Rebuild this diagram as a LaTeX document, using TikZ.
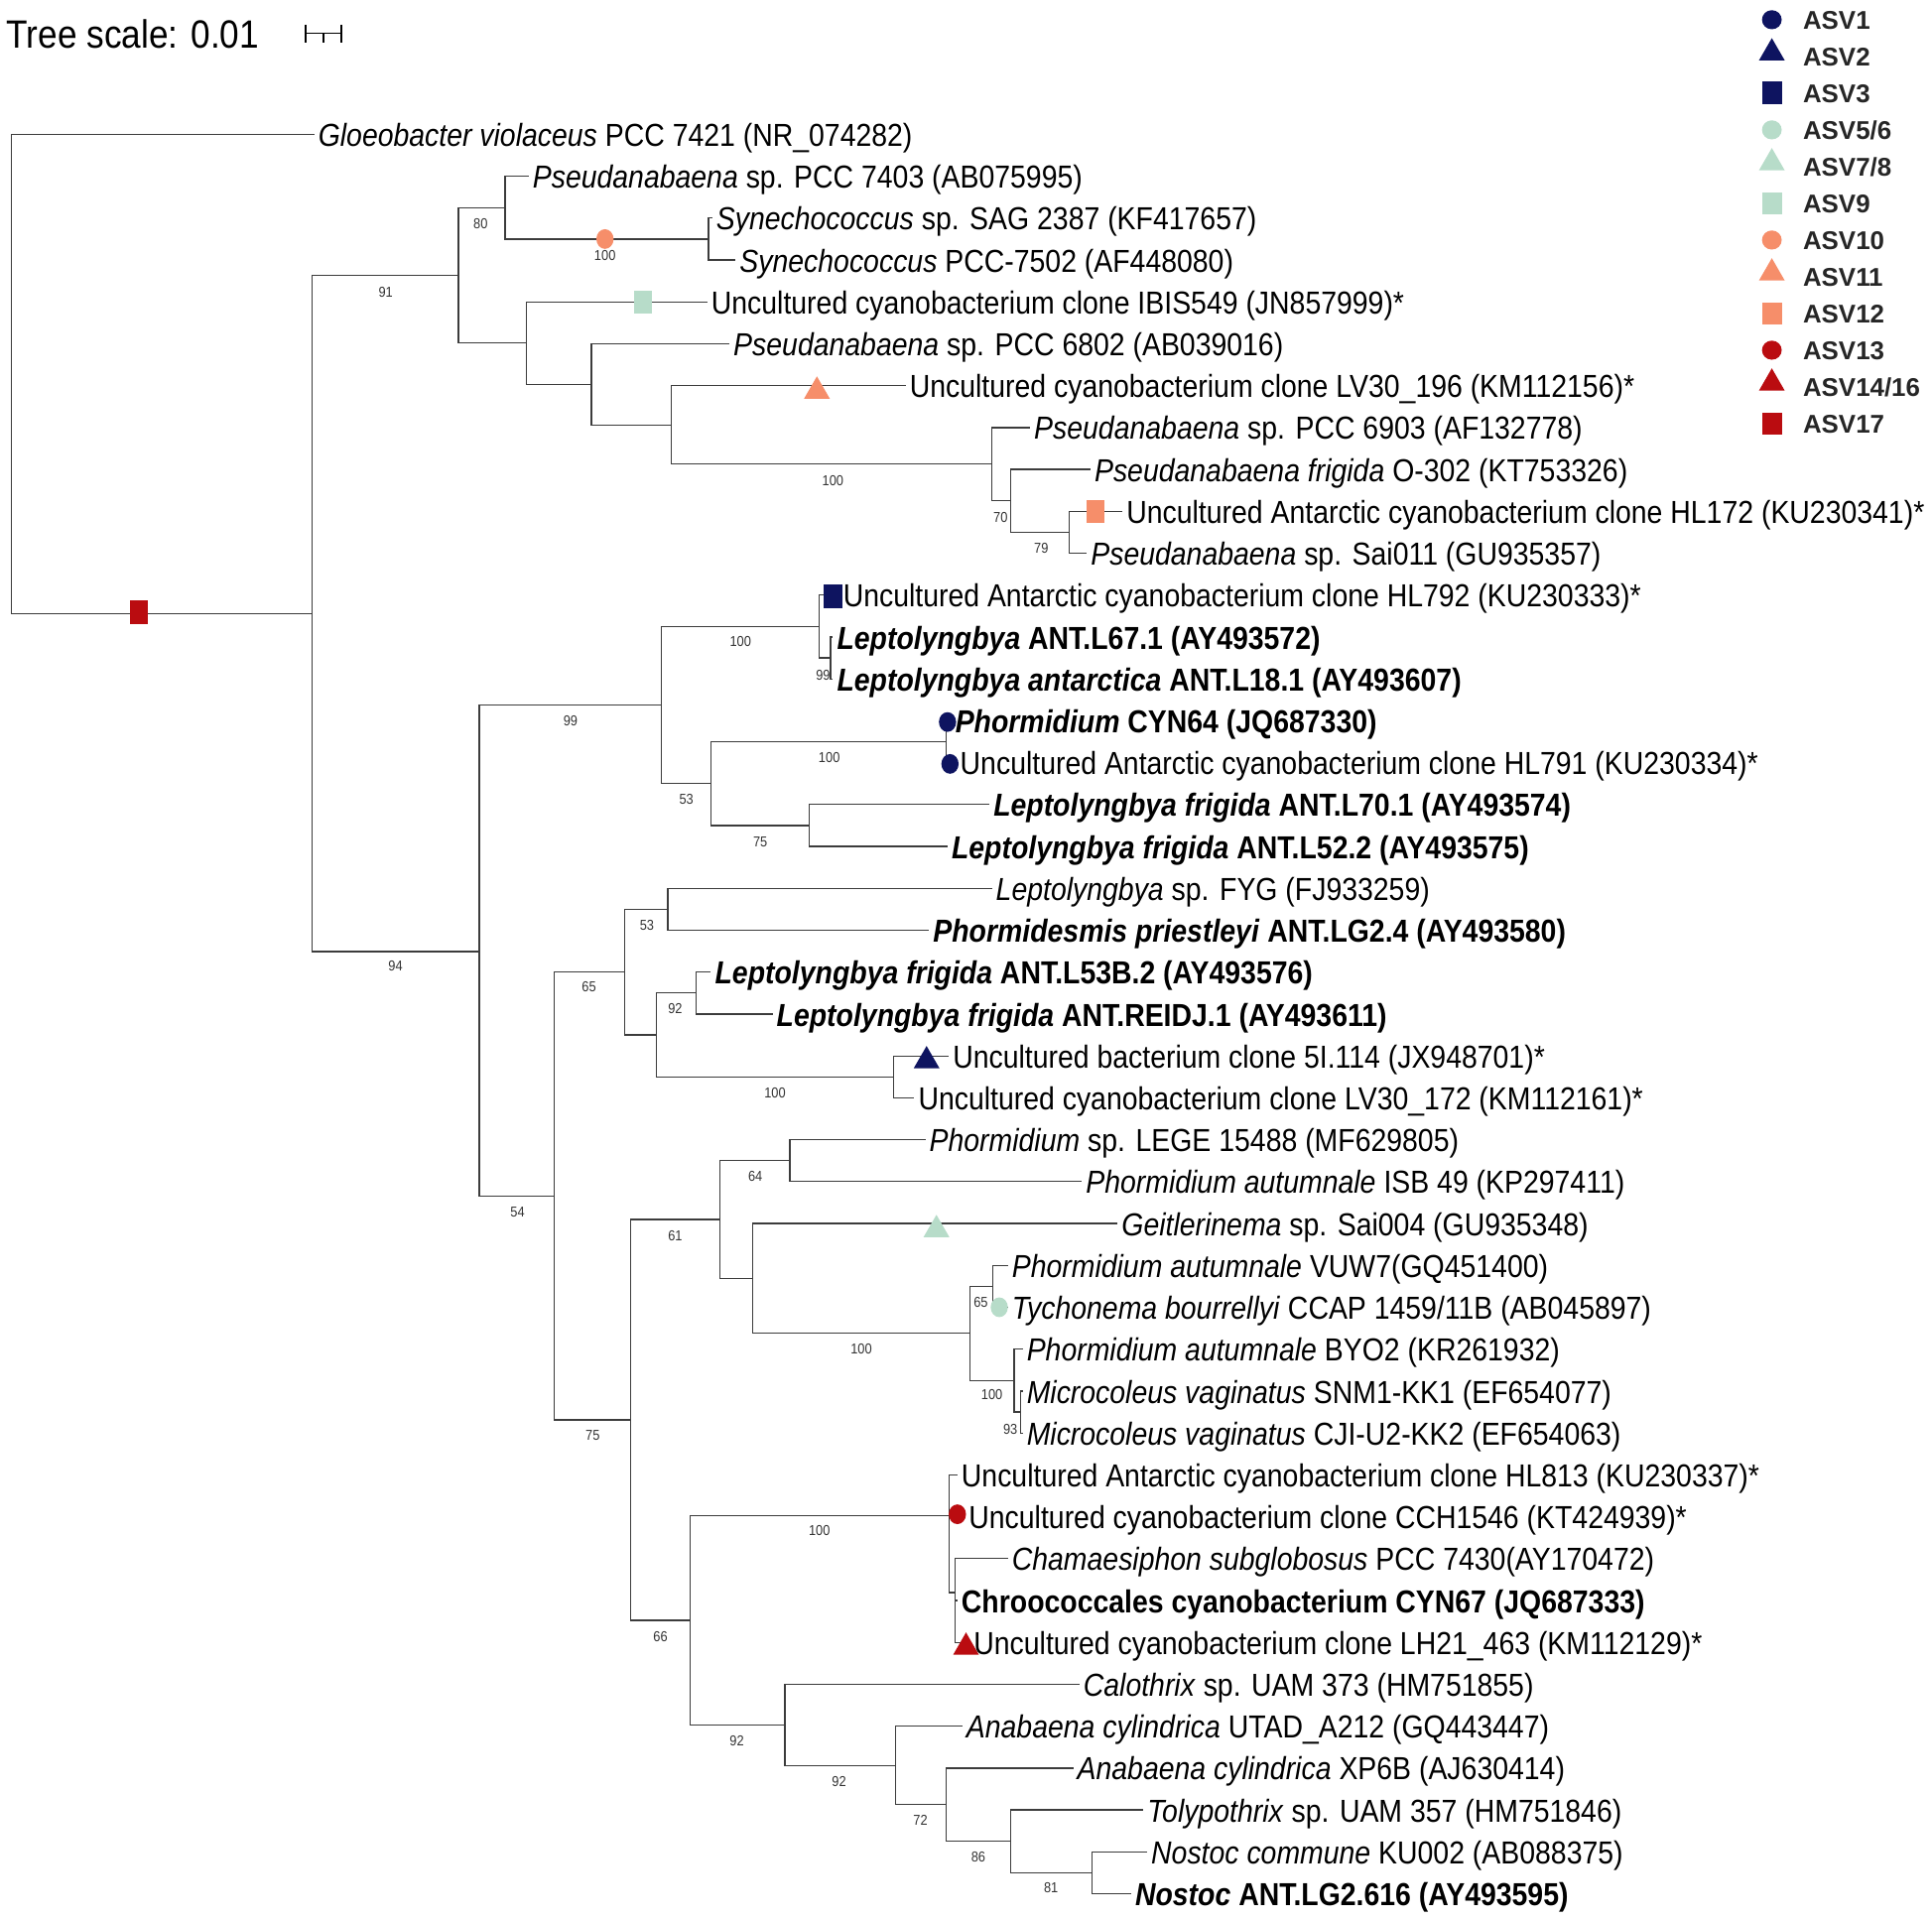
\documentclass[tikz,border=0pt]{standalone}
\usepackage{fontspec}
\setmainfont{Liberation Sans}
\newfontfamily\treefont[FakeStretch=0.886]{Liberation Sans}
\usetikzlibrary{shapes.geometric}
\definecolor{navy}{RGB}{14,20,96}
\definecolor{mint}{RGB}{183,220,201}
\definecolor{salmon}{RGB}{246,142,106}
\definecolor{asvred}{RGB}{186,12,16}
\definecolor{branchgray}{RGB}{60,60,60}

\begin{document}
\begin{tikzpicture}[x=0.6pt,y=-0.6pt,%
  branch/.style={draw=branchgray,line width=0.6pt},%
  leaf/.style={anchor=west,inner xsep=1.8pt,inner ysep=0pt,text height=11.7pt,%
  text depth=0pt,font=\treefont\fontsize{15.5}{17}\selectfont},%
  boot/.style={inner sep=0pt,text=black!80,font=\treefont\fontsize{7}{8}\selectfont},%
  key/.style={anchor=west,inner sep=0pt,text height=8.95pt,text depth=0pt,%
  text=black!85,font=\bfseries\fontsize{12.5}{14}\selectfont},%
  asvcirc/.style={ellipse,fill=#1,inner sep=0pt,minimum width=8.4pt,minimum height=9.6pt},%
  asvsq/.style={rectangle,fill=#1,inner sep=0pt,minimum width=8.8pt,minimum height=11.3pt},%
  asvtri/.style={regular polygon,regular polygon sides=3,fill=#1,inner sep=0pt,minimum size=14.5pt}]

  \useasboundingbox (0,0) rectangle (1568,1558);

  % scale
  \node [anchor=west,inner sep=0pt,text height=14pt,text depth=0pt,%
    font=\treefont\fontsize{19.2}{22}\selectfont] (tscale) at (5,27) {Tree scale: 0.01};
  \coordinate (sbl) at (248,27);
  \coordinate (sbm) at (262.5,27);
  \coordinate (sbr) at (277,27);
  \draw [line width=0.9pt] (sbl) -- (sbr)
    (sbl) ++(0,-7) -- ++(0,15) (sbr) ++(0,-7) -- ++(0,15) (sbm) -- ++(0,8);

  % internal nodes
  \coordinate (root) at (9,303.5);
  \coordinate (nA) at (253,498);
  \coordinate (nB) at (372,223.5);
  \coordinate (nPse) at (410,168.5);
  \coordinate (nSyn) at (575,194);
  \coordinate (nC) at (427,278.5);
  \coordinate (nD) at (480,312);
  \coordinate (nE) at (545,345);
  \coordinate (nF) at (805,376.75);
  \coordinate (nG) at (820,406.5);
  \coordinate (nH) at (868,432);
  \coordinate (nI) at (389,772.4);
  \coordinate (nJ) at (537,572.25);
  \coordinate (nL) at (665,508.5);
  \coordinate (nL2) at (674,534);
  \coordinate (nM) at (577,636);
  \coordinate (nN) at (768,602);
  \coordinate (nO) at (657,670);
  \coordinate (nK) at (450,970.75);
  \coordinate (nP) at (507,789);
  \coordinate (nR) at (542,738);
  \coordinate (nS) at (533,840);
  \coordinate (nT) at (565,806);
  \coordinate (nU) at (725,874);
  \coordinate (nQ) at (512,1152.5);
  \coordinate (nV) at (584,989.75);
  \coordinate (nX) at (641,942);
  \coordinate (nY) at (611,1037.6);
  \coordinate (nZ) at (787,1082.25);
  \coordinate (nZa) at (806,1044);
  \coordinate (nZb) at (823,1120.5);
  \coordinate (nZc) at (828,1146);
  \coordinate (nW) at (560,1315);
  \coordinate (nAA) at (770,1230);
  \coordinate (nAC) at (775,1292.5);
  \coordinate (nAB) at (637,1400);
  \coordinate (nAE) at (727,1433);
  \coordinate (nAF) at (768,1464.75);
  \coordinate (nAG) at (820,1494.5);
  \coordinate (nAH) at (886,1520);

  % leaves
  \node [leaf] (gloeo) at (255,109) {\textit{Gloeobacter violaceus} PCC 7421 (NR\_074282)};
  \node [leaf] (pse7403) at (429,143) {\textit{Pseudanabaena} sp. PCC 7403 (AB075995)};
  \node [leaf] (syn2387) at (578,177) {\textit{Synechococcus} sp. SAG 2387 (KF417657)};
  \node [leaf] (syn7502) at (597,211) {\textit{Synechococcus} PCC-7502 (AF448080)};
  \node [leaf] (ibis) at (574,245) {Uncultured cyanobacterium clone IBIS549 (JN857999)*};
  \node [leaf] (pse6802) at (592,279) {\textit{Pseudanabaena} sp. PCC 6802 (AB039016)};
  \node [leaf] (lv196) at (735,313) {Uncultured cyanobacterium clone LV30\_196 (KM112156)*};
  \node [leaf] (pse6903) at (836,347) {\textit{Pseudanabaena} sp. PCC 6903 (AF132778)};
  \node [leaf] (psefrig) at (885,381) {\textit{Pseudanabaena frigida} O-302 (KT753326)};
  \node [leaf] (hl172) at (911,415) {Uncultured Antarctic cyanobacterium clone HL172 (KU230341)*};
  \node [leaf] (sai011) at (882,449) {\textit{Pseudanabaena} sp. Sai011 (GU935357)};
  \node [leaf] (hl792) at (681,483) {Uncultured Antarctic cyanobacterium clone HL792 (KU230333)*};
  \node [leaf] (l671) at (676,517) {\textbf{\textit{Leptolyngbya} ANT.L67.1 (AY493572)}};
  \node [leaf] (l181) at (676,551) {\textbf{\textit{Leptolyngbya antarctica} ANT.L18.1 (AY493607)}};
  \node [leaf] (cyn64) at (772,585) {\textbf{\textit{Phormidium} CYN64 (JQ687330)}};
  \node [leaf] (hl791) at (776,619) {Uncultured Antarctic cyanobacterium clone HL791 (KU230334)*};
  \node [leaf] (l701) at (803,653) {\textbf{\textit{Leptolyngbya frigida} ANT.L70.1 (AY493574)}};
  \node [leaf] (l522) at (769,687) {\textbf{\textit{Leptolyngbya frigida} ANT.L52.2 (AY493575)}};
  \node [leaf] (fyg) at (805,721) {\textit{Leptolyngbya} sp. FYG (FJ933259)};
  \node [leaf] (phpri) at (754,755) {\textbf{\textit{Phormidesmis priestleyi} ANT.LG2.4 (AY493580)}};
  \node [leaf] (l53b) at (577,789) {\textbf{\textit{Leptolyngbya frigida} ANT.L53B.2 (AY493576)}};
  \node [leaf] (reidj) at (627,823) {\textbf{\textit{Leptolyngbya frigida} ANT.REIDJ.1 (AY493611)}};
  \node [leaf] (c5i) at (770,857) {Uncultured bacterium clone 5I.114 (JX948701)*};
  \node [leaf] (lv172) at (742,891) {Uncultured cyanobacterium clone LV30\_172 (KM112161)*};
  \node [leaf] (lege) at (751,925) {\textit{Phormidium} sp. LEGE 15488 (MF629805)};
  \node [leaf] (isb) at (878,959) {\textit{Phormidium autumnale} ISB 49 (KP297411)};
  \node [leaf] (geit) at (907,993) {\textit{Geitlerinema} sp. Sai004 (GU935348)};
  \node [leaf] (vuw) at (818,1027) {\textit{Phormidium autumnale} VUW7(GQ451400)};
  \node [leaf] (tycho) at (818,1061) {\textit{Tychonema bourrellyi} CCAP 1459/11B (AB045897)};
  \node [leaf] (byo) at (830,1095) {\textit{Phormidium autumnale} BYO2 (KR261932)};
  \node [leaf] (snm) at (830,1129) {\textit{Microcoleus vaginatus} SNM1-KK1 (EF654077)};
  \node [leaf] (cji) at (830,1163) {\textit{Microcoleus vaginatus} CJI-U2-KK2 (EF654063)};
  \node [leaf] (hl813) at (777,1197) {Uncultured Antarctic cyanobacterium clone HL813 (KU230337)*};
  \node [leaf] (cch) at (783,1231) {Uncultured cyanobacterium clone CCH1546 (KT424939)*};
  \node [leaf] (chama) at (818,1265) {\textit{Chamaesiphon subglobosus} PCC 7430(AY170472)};
  \node [leaf] (cyn67) at (777,1299) {\textbf{Chroococcales cyanobacterium CYN67 (JQ687333)}};
  \node [leaf] (lh21) at (787,1333) {Uncultured cyanobacterium clone LH21\_463 (KM112129)*};
  \node [leaf] (calo) at (876,1367) {\textit{Calothrix} sp. UAM 373 (HM751855)};
  \node [leaf] (utad) at (781,1401) {\textit{Anabaena cylindrica} UTAD\_A212 (GQ443447)};
  \node [leaf] (xp6b) at (871,1435) {\textit{Anabaena cylindrica} XP6B (AJ630414)};
  \node [leaf] (toly) at (928,1469) {\textit{Tolypothrix} sp. UAM 357 (HM751846)};
  \node [leaf] (noscom) at (931,1503) {\textit{Nostoc commune} KU002 (AB088375)};
  \node [leaf] (nosant) at (918,1537) {\textbf{\textit{Nostoc} ANT.LG2.616 (AY493595)}};

  % branches
  \draw [branch] (root) |- (gloeo.west) (root) |- (nA);
  \draw [branch] (nA) |- (nB) (nA) |- (nI);
  \draw [branch] (nB) |- (nPse) (nB) |- (nC);
  \draw [branch] (nPse) |- (pse7403.west) (nPse) |- (nSyn);
  \draw [branch] (nSyn) |- (syn2387.west) (nSyn) |- (syn7502.west);
  \draw [branch] (nC) |- (ibis.west) (nC) |- (nD);
  \draw [branch] (nD) |- (pse6802.west) (nD) |- (nE);
  \draw [branch] (nE) |- (lv196.west) (nE) |- (nF);
  \draw [branch] (nF) |- (pse6903.west) (nF) |- (nG);
  \draw [branch] (nG) |- (psefrig.west) (nG) |- (nH);
  \draw [branch] (nH) |- (hl172.west) (nH) |- (sai011.west);
  \draw [branch] (nI) |- (nJ) (nI) |- (nK);
  \draw [branch] (nJ) |- (nL) (nJ) |- (nM);
  \draw [branch] (nL) |- (hl792.west) (nL) |- (nL2);
  \draw [branch] (nL2) |- (l671.west) (nL2) |- (l181.west);
  \draw [branch] (nM) |- (nN) (nM) |- (nO);
  \draw [branch] (nN) |- (cyn64.west) (nN) |- (hl791.west);
  \draw [branch] (nO) |- (l701.west) (nO) |- (l522.west);
  \draw [branch] (nK) |- (nP) (nK) |- (nQ);
  \draw [branch] (nP) |- (nR) (nP) |- (nS);
  \draw [branch] (nR) |- (fyg.west) (nR) |- (phpri.west);
  \draw [branch] (nS) |- (nT) (nS) |- (nU);
  \draw [branch] (nT) |- (l53b.west) (nT) |- (reidj.west);
  \draw [branch] (nU) |- (c5i.west) (nU) |- (lv172.west);
  \draw [branch] (nQ) |- (nV) (nQ) |- (nW);
  \draw [branch] (nV) |- (nX) (nV) |- (nY);
  \draw [branch] (nX) |- (lege.west) (nX) |- (isb.west);
  \draw [branch] (nY) |- (geit.west) (nY) |- (nZ);
  \draw [branch] (nZ) |- (nZa) (nZ) |- (nZb);
  \draw [branch] (nZa) |- (vuw.west) (nZa) |- (tycho.west);
  \draw [branch] (nZb) |- (byo.west) (nZb) |- (nZc);
  \draw [branch] (nZc) |- (snm.west) (nZc) |- (cji.west);
  \draw [branch] (nW) |- (nAA) (nW) |- (nAB);
  \draw [branch] (nAA) |- (hl813.west) (nAA) |- (cch.west) (nAA) |- (nAC);
  \draw [branch] (nAC) |- (chama.west) (nAC) |- (cyn67.west) (nAC) |- (lh21.west);
  \draw [branch] (nAB) |- (calo.west) (nAB) |- (nAE);
  \draw [branch] (nAE) |- (utad.west) (nAE) |- (nAF);
  \draw [branch] (nAF) |- (xp6b.west) (nAF) |- (nAG);
  \draw [branch] (nAG) |- (toly.west) (nAG) |- (nAH);
  \draw [branch] (nAH) |- (noscom.west) (nAH) |- (nosant.west);

  % bootstrap values
  \node [boot] (b01) at (313,237) {91};
  \node [boot] (b02) at (390,182) {80};
  \node [boot] (b03) at (491,207) {100};
  \node [boot] (b04) at (676,390) {100};
  \node [boot] (b05) at (812,420) {70};
  \node [boot] (b06) at (845,445) {79};
  \node [boot] (b07) at (321,784) {94};
  \node [boot] (b08) at (463,585) {99};
  \node [boot] (b09) at (601,521) {100};
  \node [boot] (b10) at (668,548) {99};
  \node [boot] (b11) at (673,615) {100};
  \node [boot] (b12) at (557,649) {53};
  \node [boot] (b13) at (617,683) {75};
  \node [boot] (b14) at (525,751) {53};
  \node [boot] (b15) at (478,801) {65};
  \node [boot] (b16) at (548,819) {92};
  \node [boot] (b17) at (629,887) {100};
  \node [boot] (b18) at (420,984) {54};
  \node [boot] (b19) at (613,955) {64};
  \node [boot] (b20) at (548,1003) {61};
  \node [boot] (b21) at (699,1095) {100};
  \node [boot] (b22) at (796,1057) {65};
  \node [boot] (b23) at (805,1132) {100};
  \node [boot] (b24) at (820,1160) {93};
  \node [boot] (b25) at (481,1165) {75};
  \node [boot] (b26) at (665,1242) {100};
  \node [boot] (b27) at (536,1328) {66};
  \node [boot] (b28) at (598,1413) {92};
  \node [boot] (b29) at (681,1446) {92};
  \node [boot] (b30) at (747,1477) {72};
  \node [boot] (b31) at (794,1507) {86};
  \node [boot] (b32) at (853,1532) {81};

  % ASV markers on the tree
  \node [asvsq=asvred] (m17) at (113,497) {};
  \node [asvcirc=salmon] (m10) at (491,194) {};
  \node [asvsq=mint] (m09) at (522,245) {};
  \node [asvtri=salmon] (m11) at (663,317.5) {};
  \node [asvsq=salmon] (m12) at (889,415) {};
  \node [asvsq=navy] (m03) at (676,484) {};
  \node [asvcirc=navy] (m01a) at (769,586) {};
  \node [asvcirc=navy] (m01b) at (771,620) {};
  \node [asvtri=navy] (m02) at (752,861) {};
  \node [asvtri=mint] (m07) at (760,998) {};
  \node [asvcirc=mint] (m05) at (811,1061) {};
  \node [asvcirc=asvred] (m13) at (777,1229) {};
  \node [asvtri=asvred] (m14) at (784,1337) {};

  % legend
  \node [asvcirc=navy,minimum width=9.6pt,minimum height=9.3pt] (k01) at (1438,16) {};
  \node [asvtri=navy] (k02) at (1438,43) {};
  \node [asvsq=navy,minimum width=9.6pt,minimum height=11pt] (k03) at (1438,75.6) {};
  \node [asvcirc=mint,minimum width=9.6pt,minimum height=9.3pt] (k05) at (1438,105.4) {};
  \node [asvtri=mint] (k07) at (1438,132.2) {};
  \node [asvsq=mint,minimum width=9.6pt,minimum height=11pt] (k09) at (1438,165) {};
  \node [asvcirc=salmon,minimum width=9.6pt,minimum height=9.3pt] (k10) at (1438,194.8) {};
  \node [asvtri=salmon] (k11) at (1438,221.6) {};
  \node [asvsq=salmon,minimum width=9.6pt,minimum height=11pt] (k12) at (1438,254.4) {};
  \node [asvcirc=asvred,minimum width=9.6pt,minimum height=9.3pt] (k13) at (1438,284.2) {};
  \node [asvtri=asvred] (k14) at (1438,311) {};
  \node [asvsq=asvred,minimum width=9.6pt,minimum height=11pt] (k17) at (1438,343.8) {};
  \node [key] (t01) at (1463,16) {ASV1};
  \node [key] (t02) at (1463,45.8) {ASV2};
  \node [key] (t03) at (1463,75.6) {ASV3};
  \node [key] (t05) at (1463,105.4) {ASV5/6};
  \node [key] (t07) at (1463,135.2) {ASV7/8};
  \node [key] (t09) at (1463,165) {ASV9};
  \node [key] (t10) at (1463,194.8) {ASV10};
  \node [key] (t11) at (1463,224.6) {ASV11};
  \node [key] (t12) at (1463,254.4) {ASV12};
  \node [key] (t13) at (1463,284.2) {ASV13};
  \node [key] (t14) at (1463,314) {ASV14/16};
  \node [key] (t17) at (1463,343.8) {ASV17};
\end{tikzpicture}
\end{document}
